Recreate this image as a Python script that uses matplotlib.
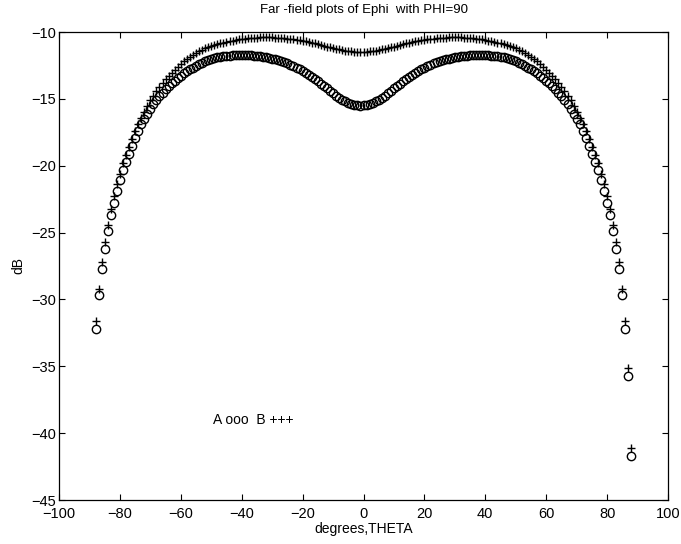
import matplotlib
matplotlib.use("Agg")
import matplotlib.pyplot as plt

plt.rcParams['font.family'] = ['Liberation Sans', 'DejaVu Sans']

# theta grid (degrees), one sample per degree
theta_deg = list(range(-88, 89))

# A: circles (dB)
a_db = [
    -32.20, -29.70, -27.75, -26.20, -24.90, -23.70, -22.80, -21.90, -21.10, -20.30,
    -19.70, -19.10, -18.50, -17.90, -17.40, -16.90, -16.50, -16.10,
    -15.75, -15.40, -15.10, -14.80, -14.55, -14.30, -14.07, -13.85, -13.65, -13.45,
    -13.27, -13.10, -12.95, -12.80, -12.67, -12.55, -12.42, -12.30, -12.20, -12.10,
    -12.02, -11.95, -11.90, -11.85, -11.82, -11.80, -11.77, -11.75, -11.73, -11.72,
    -11.72, -11.72, -11.73, -11.75, -11.77, -11.80, -11.82, -11.85, -11.90, -11.95,
    -12.00, -12.05, -12.12, -12.20, -12.27, -12.35, -12.45, -12.55, -12.67, -12.80,
    -12.92, -13.05, -13.20, -13.35, -13.52, -13.70, -13.87, -14.05, -14.22, -14.40,
    -14.58, -14.75, -14.90, -15.05, -15.18, -15.30, -15.38, -15.45, -15.49, -15.50,
    -15.49, -15.45, -15.38, -15.30, -15.18, -15.05, -14.90, -14.75, -14.58, -14.40,
    -14.22, -14.05, -13.87, -13.70, -13.52, -13.35, -13.20, -13.05, -12.92, -12.80,
    -12.67, -12.55, -12.45, -12.35, -12.27, -12.20, -12.12, -12.05, -12.00, -11.95,
    -11.90, -11.85, -11.82, -11.80, -11.77, -11.75, -11.73, -11.72, -11.72, -11.72,
    -11.73, -11.75, -11.77, -11.80, -11.82, -11.85, -11.90, -11.95, -12.02, -12.10,
    -12.20, -12.30, -12.42, -12.55, -12.67, -12.80, -12.95, -13.10, -13.27, -13.45,
    -13.65, -13.85, -14.07, -14.30, -14.55, -14.80, -15.10, -15.40, -15.75, -16.10,
    -16.50, -16.90, -17.40, -17.90, -18.50, -19.10, -19.70, -20.30, -21.10, -21.90,
    -22.80, -23.70, -24.90, -26.20, -27.75, -29.70, -32.20, -35.70, -41.70,
]

# B: plus signs (dB)
b_db = [
    -31.65, -29.20, -27.20, -25.70, -24.40, -23.20, -22.30, -21.40, -20.60, -19.80,
    -19.20, -18.60, -18.00, -17.40, -16.90, -16.40, -15.95, -15.50,
    -15.10, -14.75, -14.42, -14.10, -13.82, -13.55, -13.30, -13.05, -12.82, -12.60,
    -12.40, -12.20, -12.02, -11.85, -11.70, -11.55, -11.43, -11.32, -11.22, -11.13,
    -11.05, -10.98, -10.91, -10.85, -10.79, -10.73, -10.68, -10.64, -10.60, -10.56,
    -10.53, -10.50, -10.47, -10.45, -10.43, -10.42, -10.41, -10.40, -10.40, -10.40,
    -10.41, -10.42, -10.43, -10.45, -10.47, -10.49, -10.52, -10.55, -10.58, -10.62,
    -10.66, -10.70, -10.75, -10.80, -10.86, -10.92, -10.98, -11.03, -11.09, -11.15,
    -11.20, -11.25, -11.30, -11.35, -11.39, -11.42, -11.45, -11.48, -11.49, -11.50,
    -11.49, -11.48, -11.45, -11.42, -11.39, -11.35, -11.30, -11.25, -11.20, -11.15,
    -11.09, -11.03, -10.98, -10.92, -10.86, -10.80, -10.75, -10.70, -10.66, -10.62,
    -10.58, -10.55, -10.52, -10.49, -10.47, -10.45, -10.43, -10.42, -10.41, -10.40,
    -10.40, -10.40, -10.41, -10.42, -10.43, -10.45, -10.47, -10.50, -10.53, -10.56,
    -10.60, -10.64, -10.68, -10.73, -10.79, -10.85, -10.91, -10.98, -11.05, -11.13,
    -11.22, -11.32, -11.43, -11.55, -11.70, -11.85, -12.02, -12.20, -12.40, -12.60,
    -12.82, -13.05, -13.30, -13.55, -13.82, -14.10, -14.42, -14.75, -15.10, -15.50,
    -15.95, -16.40, -16.90, -17.40, -18.00, -18.60, -19.20, -19.80, -20.60, -21.40,
    -22.30, -23.20, -24.40, -25.70, -27.20, -29.20, -31.65, -35.10, -41.10,
]

xticks = list(range(-100, 101, 20))
yticks = list(range(-45, -9, 5))

fig = plt.figure(figsize=(6.81, 5.44), dpi=100)
ax = fig.add_axes([59 / 681, 44 / 544, 609 / 681, 468 / 544])

ax.plot(theta_deg, a_db, linestyle='none', marker='o', markersize=6.0,
        markerfacecolor='none', markeredgecolor='black', markeredgewidth=1.0)
ax.plot(theta_deg, b_db, linestyle='none', marker='+', markersize=6.0,
        color='black', markeredgewidth=1.0)

ax.set_xlim(-100, 100)
ax.set_ylim(-45, -10)
ax.set_xticks(xticks)
ax.set_yticks(yticks)
ax.tick_params(direction='in', top=True, right=True, length=4, width=0.8,
               labelsize=10.5)
ax.tick_params(axis='x', pad=5)
ax.tick_params(axis='y', pad=2)
for s in ax.spines.values():
    s.set_linewidth(0.9)

ax.set_title('Far -field plots of Ephi  with PHI=90', fontsize=9.5, pad=14)
ax.set_xlabel('degrees,THETA', fontsize=10, labelpad=1)
ax.set_ylabel('dB', fontsize=10, labelpad=4)
ax.text(-49.5, -39.0, 'A ooo  B +++', fontsize=10, va='center', ha='left')

fig.savefig('out.png', dpi=100)
